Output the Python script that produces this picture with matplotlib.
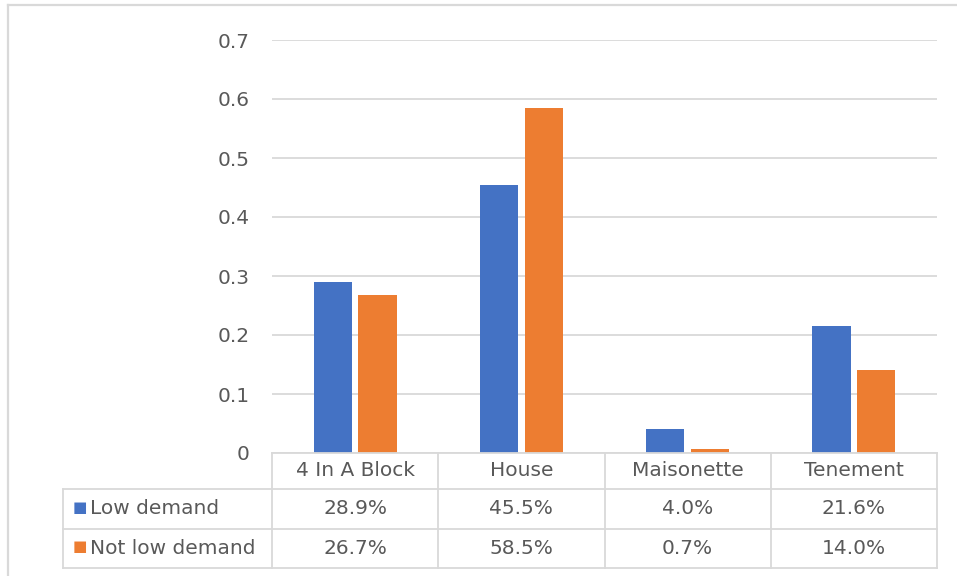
import numpy as np
import matplotlib
matplotlib.use("Agg")
import matplotlib.pyplot as plt
import matplotlib.transforms as mtransforms
from matplotlib.lines import Line2D

# data
categories = ["4 In A Block", "House", "Maisonette", "Tenement"]
series_names = ["Low demand", "Not low demand"]
low_demand = [0.289, 0.455, 0.040, 0.216]
not_low_demand = [0.267, 0.585, 0.007, 0.140]
y_ticks = [0, 0.1, 0.2, 0.3, 0.4, 0.5, 0.6, 0.7]

blue = "#4472C4"
orange = "#ED7D31"
text_col = "#595959"
line_col = "#D9D9D9"
fsize = 14.5

W, H = 957, 576
fig = plt.figure(figsize=(W / 100, H / 100), dpi=100)

# outer chart border, only top and left show (cropped in the reference)
bx, by = 8 / W, 1 - 5 / H
fig.add_artist(Line2D([bx, 1], [by, by], transform=fig.transFigure,
                      color=line_col, lw=1.6))
fig.add_artist(Line2D([bx, bx], [0, by], transform=fig.transFigure,
                      color=line_col, lw=1.6))

ax = fig.add_axes([272 / W, (H - 453) / H, (937 - 272) / W, (453 - 40) / H])

x = np.arange(len(categories))
width = 0.23
off = 0.135
ax.bar(x - off, low_demand, width, color=blue)
ax.bar(x + off, not_low_demand, width, color=orange)

ax.set_xlim(-0.5, len(categories) - 0.5)
ax.set_ylim(0, 0.7)
ax.set_yticks(y_ticks)
ax.set_yticklabels(["0" if t == 0 else f"{t:.1f}" for t in y_ticks])
ax.tick_params(axis="y", length=0, pad=16, labelsize=fsize, labelcolor=text_col)
ax.set_xticks([])
ax.grid(axis="y", color=line_col, lw=1.3)
ax.set_axisbelow(True)
for s in ax.spines.values():
    s.set_visible(False)

# data table under the plot: x in data units, y in axes units
tr = mtransforms.blended_transform_factory(ax.transData, ax.transAxes)
row_edges = [0, -0.087, -0.184, -0.278]
left_x = -1.757
right_x = len(categories) - 0.5
lkw = dict(color=line_col, lw=1.3, transform=tr, clip_on=False)

# horizontal lines
ax.plot([-0.5, right_x], [row_edges[0]] * 2, **lkw)
for ry in row_edges[1:]:
    ax.plot([left_x, right_x], [ry] * 2, **lkw)
# vertical lines
ax.plot([left_x, left_x], [row_edges[1], row_edges[3]], **lkw)
for i in range(len(categories) + 1):
    ax.plot([i - 0.5, i - 0.5], [row_edges[0], row_edges[3]], **lkw)

centers = [(row_edges[i] + row_edges[i + 1]) / 2 for i in range(3)]
for i, c in enumerate(categories):
    ax.text(i, centers[0], c, ha="center", va="center", fontsize=fsize,
            color=text_col, transform=tr)

for r, (name, vals, col) in enumerate(zip(series_names,
                                          [low_demand, not_low_demand],
                                          [blue, orange])):
    cy = centers[r + 1]
    ax.text(left_x + 0.055, cy + 0.004, "\u25A0", ha="left", va="center",
            fontsize=11, color=col, transform=tr)
    ax.text(left_x + 0.16, cy, name, ha="left", va="center",
            fontsize=fsize, color=text_col, transform=tr)
    for i, v in enumerate(vals):
        ax.text(i, cy, f"{v * 100:.1f}%", ha="center", va="center",
                fontsize=fsize, color=text_col, transform=tr)

fig.savefig("out.png", dpi=100)
